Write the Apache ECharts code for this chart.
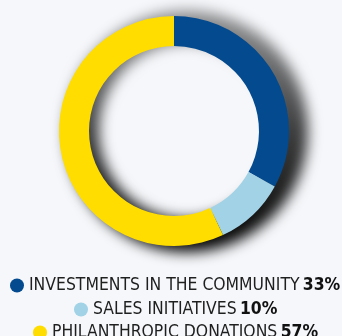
<!DOCTYPE html>
<html>
<head>
<meta charset="utf-8">
<script src="https://cdn.jsdelivr.net/npm/echarts@6/dist/echarts.min.js"></script>
<style>
  html, body { margin: 0; padding: 0; background: #f5f7fa; }
  #chart { width: 342px; height: 336px; }
</style>
</head>
<body>
<div id="chart"></div>
<script>
// Share of community spending by category (percent)
const categories = ['INVESTMENTS IN THE COMMUNITY', 'SALES INITIATIVES', 'PHILANTHROPIC DONATIONS'];
const shares = [33, 10, 57];
const palette = ['#034a8f', '#a1d2e6', '#ffdd00'];

// Layout
const ringCenter = [174, 131];
const legendTops = [277, 301, 324];
const legendMid = 176;
const fontSize = 17.4;
const font = '"Liberation Sans Narrow", "DejaVu Sans Condensed", "Roboto", sans-serif';
const iconSize = 14;
const iconGap = 5;

// The shade ring is drawn far off to the left and only its canvas shadow
// is thrown back under the donut, so the ring itself never shows.
const shadeShift = 1000;
const shadeOffset = [13, 0];

// width of one legend row, used to centre it on legendMid
const measure = document.createElement('canvas').getContext('2d');
function rowWidth(i) {
  measure.font = `${fontSize}px ${font}`;
  let w = measure.measureText(categories[i] + ' ').width;
  measure.font = `bold ${fontSize}px ${font}`;
  w += measure.measureText(shares[i] + '%').width;
  return iconSize + iconGap + w;
}

const chart = echarts.init(document.getElementById('chart'), null, { renderer: 'canvas' });

const legends = categories.map((name, i) => ({
  data: [{ name: name, icon: 'circle' }],
  left: Math.round(legendMid - rowWidth(i) / 2),
  top: legendTops[i],
  padding: 0,
  itemWidth: iconSize,
  itemHeight: iconSize,
  selectedMode: false,
  formatter: n => `{n|${n}} {v|${shares[categories.indexOf(n)]}%}`,
  textStyle: {
    rich: {
      n: { fontFamily: font, fontSize: fontSize, color: '#1f1f1f' },
      v: { fontFamily: font, fontSize: fontSize, fontWeight: 'bold', color: '#111' }
    }
  }
}));

chart.setOption({
  backgroundColor: '#f5f7fa',
  animation: false,
  legend: legends,
  series: [
    {
      // soft cast shadow behind the ring, darker towards the bottom
      type: 'pie',
      z: 1,
      silent: true,
      center: [ringCenter[0] - shadeShift, ringCenter[1]],
      radius: [88, 121],
      startAngle: 90,
      label: { show: false },
      labelLine: { show: false },
      emphasis: { disabled: true },
      data: [{
        value: 1,
        name: 'shade',
        itemStyle: {
          borderWidth: 0,
          color: new echarts.graphic.LinearGradient(0, 0, 0, 1, [
            { offset: 0, color: 'rgba(0,0,0,0.4)' },
            { offset: 0.5, color: 'rgba(0,0,0,0.75)' },
            { offset: 1, color: 'rgba(0,0,0,1)' }
          ]),
          shadowColor: 'rgba(0,0,0,1)',
          shadowBlur: 14,
          shadowOffsetX: shadeShift + shadeOffset[0],
          shadowOffsetY: shadeOffset[1]
        }
      }]
    },
    {
      type: 'pie',
      z: 2,
      center: ringCenter,
      radius: [85, 115],
      startAngle: 90,
      clockwise: true,
      label: { show: false },
      labelLine: { show: false },
      emphasis: { disabled: true },
      itemStyle: { borderWidth: 0 },
      data: categories.map((name, i) => ({
        name: name,
        value: shares[i],
        itemStyle: { color: palette[i] }
      }))
    }
  ]
});
</script>
</body>
</html>
